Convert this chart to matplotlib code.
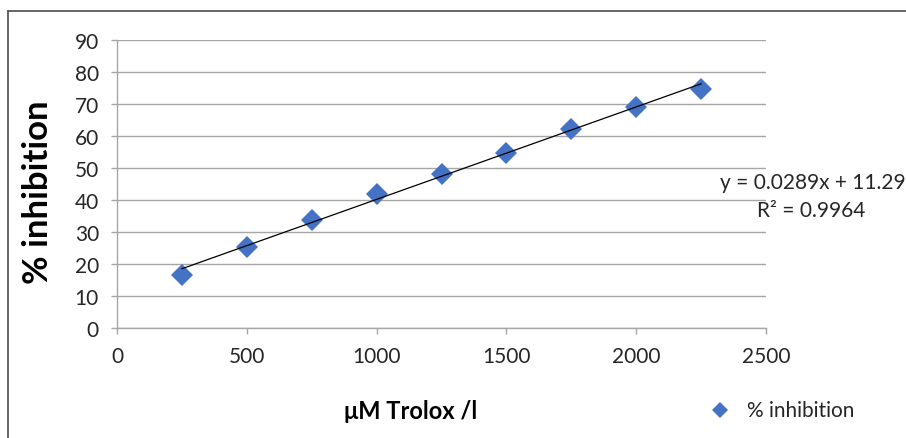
import numpy as np
import matplotlib.pyplot as plt
from matplotlib.lines import Line2D

# Trolox calibration data
trolox = [250, 500, 750, 1000, 1250, 1500, 1750, 2000, 2250]
inhibition = [16.5, 25.3, 33.8, 42.0, 48.1, 54.8, 62.3, 69.1, 74.8]

slope = 0.0289
intercept = 11.29
eq_text = "y = 0.0289x + 11.29"
r2_text = "R² = 0.9964"

x_ticks = [0, 500, 1000, 1500, 2000, 2500]
y_ticks = [0, 10, 20, 30, 40, 50, 60, 70, 80, 90]

plt.rcParams['font.family'] = ['Lato', 'DejaVu Sans']

W, H = 906, 439
fig = plt.figure(figsize=(W / 100, H / 100), dpi=100)
ax = fig.add_axes([117 / W, 1 - 329 / H, (766 - 117) / W, (329 - 41) / H])

grid_col = '#a6a6a6'
ax.set_xlim(0, 2500)
ax.set_ylim(0, 90)
ax.set_xticks(x_ticks)
ax.set_yticks(y_ticks)
ax.yaxis.grid(True, color=grid_col, linewidth=1.0)
ax.set_axisbelow(True)
for s in ['top', 'right']:
    ax.spines[s].set_visible(False)
for s in ['left', 'bottom']:
    ax.spines[s].set_color(grid_col)
    ax.spines[s].set_linewidth(1.0)
ax.tick_params(axis='both', colors=grid_col, length=4, width=1.0,
               labelcolor='#262626', labelsize=15)
ax.tick_params(axis='x', pad=9)
ax.tick_params(axis='y', pad=9)

# trendline
xt = np.array([trolox[0], trolox[-1]])
ax.plot(xt, slope * xt + intercept, color='black', linewidth=0.9, zorder=3)

ax.plot(trolox, inhibition, linestyle='none', marker='D', markersize=11,
        color='#4472c4', markeredgewidth=0, zorder=2, clip_on=False)

fig.text(720 / W, 1 - 183 / H, eq_text, fontsize=15, color='#262626',
         ha='left', va='center')
fig.text(811 / W, 1 - 211 / H, r2_text, fontsize=15, color='#262626',
         ha='center', va='center')

fig.text(38 / W, 1 - 192 / H, "% inhibition", fontsize=25, fontweight='bold',
         rotation=90, ha='center', va='center', color='black')
fig.text(411 / W, 1 - 412 / H, "μM Trolox /l", fontsize=17, fontweight='bold',
         ha='center', va='center', color='black')

# legend
fig.add_artist(Line2D([720 / W], [1 - 411 / H], marker='D', markersize=8,
                      color='#4472c4', markeredgewidth=0, linestyle='none'))
fig.text(747 / W, 1 - 411 / H, "% inhibition", fontsize=15, color='#262626',
         ha='left', va='center')

# outer chart border (left and top edges visible)
border_col = '#595959'
fig.add_artist(Line2D([8 / W, 8 / W], [0, 1 - 12 / H], color=border_col, linewidth=1.3))
fig.add_artist(Line2D([8 / W, 1], [1 - 12 / H, 1 - 12 / H], color=border_col, linewidth=1.3))

fig.savefig('out.png', dpi=100)
